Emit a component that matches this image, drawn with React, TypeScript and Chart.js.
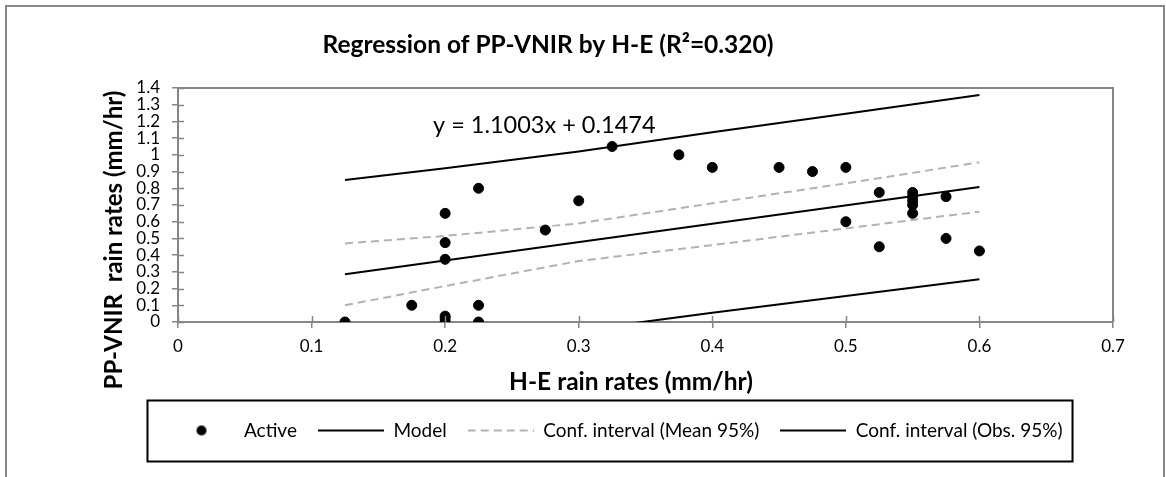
import React, { useEffect, useRef } from "react";
import { Chart, registerables } from "chart.js";

Chart.register(...registerables);

// ---- data ----
const activeX = [0.125, 0.175, 0.2, 0.2, 0.2, 0.2, 0.2, 0.2, 0.225, 0.225, 0.225, 0.275, 0.3, 0.325, 0.375, 0.4, 0.45, 0.475, 0.5, 0.5, 0.525, 0.525, 0.55, 0.55, 0.55, 0.55, 0.55, 0.575, 0.575, 0.6];
const activeY = [0, 0.1, 0, 0.02, 0.035, 0.375, 0.475, 0.65, 0, 0.1, 0.8, 0.55, 0.725, 1.05, 1.0, 0.925, 0.925, 0.9, 0.925, 0.6, 0.775, 0.45, 0.775, 0.75, 0.725, 0.7, 0.65, 0.75, 0.5, 0.425];

const modelX = [0.125, 0.6];
const modelY = [0.285, 0.808];

const ciX = [0.125, 0.2, 0.3, 0.4, 0.5, 0.6];
const meanUpper = [0.47, 0.515, 0.59, 0.71, 0.83, 0.955];
const meanLower = [0.1, 0.215, 0.365, 0.46, 0.56, 0.66];
const obsUpper = [0.85, 0.92, 1.02, 1.135, 1.246, 1.358];
const obsLower = [-0.27, -0.17, -0.05, 0.055, 0.155, 0.256];

const legendNames = ["Active", "Model", "Conf. interval (Mean 95%)", "Conf. interval (Obs. 95%)"];
const titleText = "Regression of PP-VNIR by H-E (R²=0.320)";
const xTitleText = "H-E rain rates (mm/hr)";
const yTitleText = "PP-VNIR  rain rates (mm/hr)";
const equationText = "y = 1.1003x + 0.1474";

const AXIS = "#868686";
const DASH = "#b2b2b2";
const FONT = "Lato";

const pts = (xs: number[], ys: number[]) => xs.map((x, i) => ({ x, y: ys[i] }));
const fmt = (v: any) => String(Math.round(Number(v) * 10) / 10);

function makeSymbol(kind: "dot" | "solid" | "dash"): HTMLCanvasElement {
  const c = document.createElement("canvas");
  if (kind === "dot") {
    c.width = 12; c.height = 12;
    const g = c.getContext("2d")!;
    g.fillStyle = "#000";
    g.beginPath(); g.arc(6, 6, 5, 0, Math.PI * 2); g.fill();
  } else {
    c.width = 66; c.height = 4;
    const g = c.getContext("2d")!;
    g.lineWidth = 2;
    g.strokeStyle = kind === "solid" ? "#000" : DASH;
    if (kind === "dash") g.setLineDash([8, 5]);
    g.beginPath(); g.moveTo(0, 2); g.lineTo(66, 2); g.stroke();
  }
  return c;
}

const decor = {
  id: "decor",
  afterDraw(chart: any) {
    const { ctx, chartArea: a, scales } = chart;
    const xs = scales.x, ys = scales.y;
    ctx.save();
    // frame top + right
    ctx.strokeStyle = AXIS; ctx.lineWidth = 2;
    ctx.beginPath();
    ctx.moveTo(a.left, a.top); ctx.lineTo(a.right, a.top); ctx.lineTo(a.right, a.bottom);
    ctx.stroke();
    // inward tick stubs (cross ticks)
    ctx.lineWidth = 1.5;
    ctx.beginPath();
    xs.ticks.forEach((_t: any, i: number) => {
      const p = Math.round(xs.getPixelForTick(i)) + 0.5;
      ctx.moveTo(p, a.bottom); ctx.lineTo(p, a.bottom - 6);
    });
    ys.ticks.forEach((_t: any, i: number) => {
      const p = Math.round(ys.getPixelForTick(i)) + 0.5;
      ctx.moveTo(a.left, p); ctx.lineTo(a.left + 6, p);
    });
    ctx.stroke();

    ctx.fillStyle = "#000";
    ctx.textBaseline = "middle";
    // title
    ctx.font = `bold 24.5px ${FONT}`;
    ctx.textAlign = "center";
    ctx.fillText(titleText, 548, 45);
    // x title
    ctx.fillText(xTitleText, 631, 382);
    // y title
    ctx.font = `bold 24px ${FONT}`;
    ctx.save();
    ctx.translate(114, 240);
    ctx.rotate(-Math.PI / 2);
    ctx.fillText(yTitleText, 0, 0);
    ctx.restore();
    // equation
    ctx.font = `23.5px ${FONT}`;
    ctx.textAlign = "left";
    ctx.fillText(equationText, 433, 125);

    // legend frame
    const lg = chart.legend;
    const hb = lg && lg.legendHitBoxes;
    if (hb && hb.length) {
      const first = hb[0], last = hb[hb.length - 1];
      const cy = first.top + first.height / 2;
      const l = first.left - 21;
      const r = last.left + last.width + 10;
      ctx.strokeStyle = "#000"; ctx.lineWidth = 2;
      ctx.strokeRect(l, cy - 30, r - l, 61);
    }
    ctx.restore();
  },
};

export default function App() {
  const ref = useRef<HTMLCanvasElement | null>(null);
  useEffect(() => {
    document.body.style.margin = "0";
    const symbols = [makeSymbol("dot"), makeSymbol("solid"), makeSymbol("dash"), makeSymbol("solid")];
    const chart = new Chart(ref.current!, {
      type: "scatter",
      data: {
        datasets: [
          { label: legendNames[0], data: pts(activeX, activeY), backgroundColor: "#000", borderColor: "#000", pointRadius: 5, pointHoverRadius: 5, showLine: false },
          { label: legendNames[1], data: pts(modelX, modelY), borderColor: "#000", borderWidth: 2, pointRadius: 0, showLine: true },
          { label: legendNames[2], data: pts(ciX, meanUpper), borderColor: DASH, borderWidth: 2, borderDash: [8, 5], pointRadius: 0, showLine: true },
          { label: legendNames[2] + " lower", data: pts(ciX, meanLower), borderColor: DASH, borderWidth: 2, borderDash: [8, 5], pointRadius: 0, showLine: true },
          { label: legendNames[3], data: pts(ciX, obsUpper), borderColor: "#000", borderWidth: 2, pointRadius: 0, showLine: true },
          { label: legendNames[3] + " lower", data: pts(ciX, obsLower), borderColor: "#000", borderWidth: 2, pointRadius: 0, showLine: true },
        ],
      },
      options: {
        animation: false,
        responsive: false,
        devicePixelRatio: 1,
        maintainAspectRatio: false,
        layout: { padding: { left: 118, right: 53, top: 88, bottom: 27 } },
        plugins: {
          title: { display: false },
          tooltip: { enabled: false },
          legend: {
            display: true,
            position: "bottom",
            labels: {
              usePointStyle: true,
              pointStyleWidth: 66,
              padding: 21,
              color: "#000",
              font: { family: FONT, size: 19 },
              generateLabels: () =>
                legendNames.map((t, i) => ({
                  text: t,
                  pointStyle: symbols[i] as any,
                  fillStyle: "#000",
                  strokeStyle: "#000",
                  lineWidth: 0,
                  hidden: false,
                  datasetIndex: [0, 1, 2, 4][i],
                  fontColor: "#000",
                })),
            },
          },
        },
        scales: {
          x: {
            type: "linear",
            min: 0,
            max: 0.7,
            ticks: { stepSize: 0.1, autoSkip: false, color: "#000", font: { family: FONT, size: 17 }, padding: 8, callback: fmt },
            grid: { drawOnChartArea: false, drawTicks: true, tickLength: 6, color: AXIS, lineWidth: 1.5 },
            border: { display: true, color: AXIS, width: 2 },
            afterFit: (s: any) => { s.height = 78; },
          },
          y: {
            type: "linear",
            min: 0,
            max: 1.4,
            ticks: { stepSize: 0.1, autoSkip: false, color: "#000", font: { family: FONT, size: 17 }, padding: 12, callback: fmt },
            grid: { drawOnChartArea: false, drawTicks: true, tickLength: 6, color: AXIS, lineWidth: 1.5 },
            border: { display: true, color: AXIS, width: 2 },
            afterFit: (s: any) => { s.width = 60; },
          },
        },
      },
      plugins: [decor],
    });
    return () => chart.destroy();
  }, []);

  return (
    <div style={{ position: "relative", width: 1166, height: 477, overflow: "hidden", background: "#fff" }}>
      <canvas ref={ref} width={1166} height={477} style={{ display: "block" }} />
      <div style={{ position: "absolute", left: 5, top: 5, width: 1160, height: 472, boxSizing: "border-box", borderTop: `2px solid ${AXIS}`, borderLeft: `2px solid ${AXIS}`, borderRight: `2px solid ${AXIS}`, pointerEvents: "none" }} />
    </div>
  );
}
